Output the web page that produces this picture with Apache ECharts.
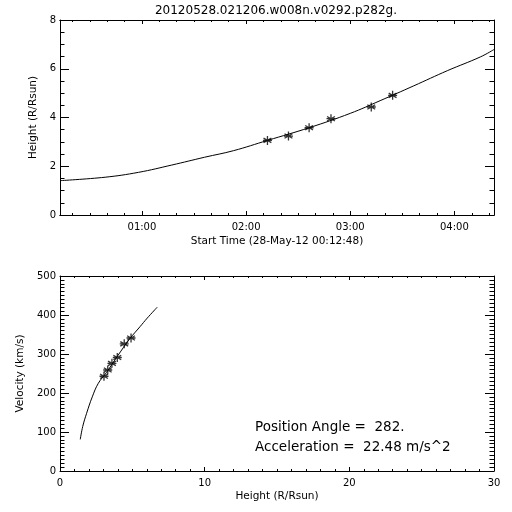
<!DOCTYPE html>
<html>
<head>
<meta charset="utf-8">
<script src="https://cdn.jsdelivr.net/npm/echarts@6/dist/echarts.min.js"></script>
<style>html,body{margin:0;padding:0;background:#fff;}#c{width:512px;height:512px;}</style>
</head>
<body>
<div id="c"></div>
<script>
// ---- Data ----
// Top panel: time in minutes since 28-May-12 00:00, height in R/Rsun
const obsTimes = [132.3, 144.4, 156.3, 168.9, 192.1, 204.4];
const obsHeights = [3.06, 3.24, 3.58, 3.95, 4.43, 4.91];
const fitTimes = [12.8, 38.8, 58.0, 77.2, 96.1, 112.8, 132.3, 156.3, 180.0, 197.2, 216.6, 235.9, 255.1, 262.8];
const fitHeights = [1.41, 1.55, 1.75, 2.05, 2.37, 2.64, 3.06, 3.58, 4.17, 4.69, 5.30, 5.92, 6.49, 6.79];
const timeTickValues = [60, 120, 180, 240];
const timeTickLabels = ['01:00', '02:00', '03:00', '04:00'];
const timeMinorValues = [20, 30, 40, 50, 70, 80, 90, 100, 110, 130, 140, 150, 160, 170, 190, 200, 210, 220, 230, 250, 260];
const timeRange = [12.8, 262.8];
// Bottom panel: height (R/Rsun) vs velocity (km/s)
const velHeights = [3.04, 3.30, 3.59, 3.96, 4.44, 4.91];
const velocities = [243, 259, 276, 291, 326, 341];
const velFitHeights = [1.40, 1.57, 1.84, 2.23, 2.65, 3.2, 4.0, 4.8, 5.53, 6.03, 6.72];
const velFitValues = [81, 114, 148, 190, 225, 252, 296, 338, 370, 392, 420];

const titleText = '20120528.021206.w008n.v0292.p282g.';
const annotLines = ['Position Angle =  282.', 'Acceleration =  22.48 m/s^2'];

const FONT = 'DejaVu Sans';
const black = '#000';
const star = 'path://M0,-1L0,1M-0.87,-0.5L0.87,0.5M-0.87,0.5L0.87,-0.5M-1,0L1,0';

function xAx(grid, pos, opts) {
  return Object.assign({
    type: 'value', gridIndex: grid, position: pos,
    axisLine: {show: true, onZero: false, lineStyle: {color: black, width: 1}},
    splitLine: {show: false},
    axisLabel: {show: false},
    axisTick: {show: true, inside: true, length: 4, lineStyle: {color: black}},
    minorTick: {show: false}
  }, opts);
}

const chart = echarts.init(document.getElementById('c'), null, {renderer: 'canvas'});
const labelStyle = {color: black, fontFamily: FONT, fontSize: 10};
const nameStyle = {color: black, fontFamily: FONT, fontSize: 10.5};

const option = {
  backgroundColor: '#fff',
  animation: false,
  grid: [
    {left: 60, top: 20, width: 434, height: 195},
    {left: 60, top: 276, width: 434, height: 195}
  ],
  xAxis: [
    xAx(0, 'bottom', {
      min: timeRange[0], max: timeRange[1],
      axisTick: {show: true, inside: true, length: 4, customValues: timeTickValues, lineStyle: {color: black}},
      axisLabel: Object.assign({show: true, margin: 7, customValues: timeTickValues,
        formatter: function (v) { const i = timeTickValues.indexOf(v); return i >= 0 ? timeTickLabels[i] : ''; }}, labelStyle),
      name: 'Start Time (28-May-12 00:12:48)', nameLocation: 'middle', nameGap: 21, nameTextStyle: nameStyle
    }),
    xAx(0, 'bottom', {min: timeRange[0], max: timeRange[1],
      axisTick: {show: true, inside: true, length: 2, customValues: timeMinorValues, lineStyle: {color: black}}}),
    xAx(0, 'top', {min: timeRange[0], max: timeRange[1],
      axisTick: {show: true, inside: true, length: 4, customValues: timeTickValues, lineStyle: {color: black}}}),
    xAx(0, 'top', {min: timeRange[0], max: timeRange[1],
      axisTick: {show: true, inside: true, length: 2, customValues: timeMinorValues, lineStyle: {color: black}}}),
    xAx(1, 'bottom', {min: 0, max: 30, interval: 10,
      minorTick: {show: true, splitNumber: 10, length: 2, lineStyle: {color: black}},
      axisLabel: Object.assign({show: true, margin: 7}, labelStyle),
      name: 'Height (R/Rsun)', nameLocation: 'middle', nameGap: 20, nameTextStyle: nameStyle}),
    xAx(1, 'top', {min: 0, max: 30, interval: 10,
      minorTick: {show: true, splitNumber: 10, length: 2, lineStyle: {color: black}}})
  ],
  yAxis: [
    xAx(0, 'left', {min: 0, max: 8, interval: 2,
      axisTick: {show: true, inside: true, length: 9, lineStyle: {color: black}},
      minorTick: {show: true, splitNumber: 4, length: 4.5, lineStyle: {color: black}},
      axisLabel: Object.assign({show: true, margin: 4}, labelStyle),
      name: 'Height (R/Rsun)', nameLocation: 'middle', nameGap: 16, nameRotate: 90, nameTextStyle: nameStyle}),
    xAx(0, 'right', {min: 0, max: 8, interval: 2,
      axisTick: {show: true, inside: true, length: 9, lineStyle: {color: black}},
      minorTick: {show: true, splitNumber: 4, length: 4.5, lineStyle: {color: black}}}),
    xAx(1, 'left', {min: 0, max: 500, interval: 100,
      axisTick: {show: true, inside: true, length: 9, lineStyle: {color: black}},
      minorTick: {show: true, splitNumber: 10, length: 4.5, lineStyle: {color: black}},
      axisLabel: Object.assign({show: true, margin: 4}, labelStyle),
      name: 'Velocity (km/s)', nameLocation: 'middle', nameGap: 27, nameRotate: 90, nameTextStyle: nameStyle}),
    xAx(1, 'right', {min: 0, max: 500, interval: 100,
      axisTick: {show: true, inside: true, length: 9, lineStyle: {color: black}},
      minorTick: {show: true, splitNumber: 10, length: 4.5, lineStyle: {color: black}}})
  ],
  series: [
    {type: 'line', xAxisIndex: 0, yAxisIndex: 0, showSymbol: false, smooth: 0.4,
      lineStyle: {color: black, width: 1}, data: fitTimes.map((t, i) => [t, fitHeights[i]]), silent: true},
    {type: 'scatter', xAxisIndex: 0, yAxisIndex: 0, symbol: star, symbolSize: 9,
      itemStyle: {color: 'none', borderColor: black, borderWidth: 1.3},
      data: obsTimes.map((t, i) => [t, obsHeights[i]])},
    {type: 'line', xAxisIndex: 4, yAxisIndex: 2, showSymbol: false, smooth: 0.4,
      lineStyle: {color: black, width: 1}, data: velFitHeights.map((h, i) => [h, velFitValues[i]]), silent: true},
    {type: 'scatter', xAxisIndex: 4, yAxisIndex: 2, symbol: star, symbolSize: 9,
      itemStyle: {color: 'none', borderColor: black, borderWidth: 1.3},
      data: velHeights.map((h, i) => [h, velocities[i]])}
  ],
  graphic: [
    {type: 'text', x: 276, y: 11, style: {text: titleText, fill: black, font: '12px "' + FONT + '"', align: 'center', verticalAlign: 'middle'}},
    {type: 'text', x: 255, y: 427, style: {text: annotLines[0], fill: black, font: '13.5px "' + FONT + '"', align: 'left', verticalAlign: 'middle'}},
    {type: 'text', x: 255, y: 447, style: {text: annotLines[1], fill: black, font: '13.5px "' + FONT + '"', align: 'left', verticalAlign: 'middle'}}
  ]
};
chart.setOption(option);
</script>
</body>
</html>
